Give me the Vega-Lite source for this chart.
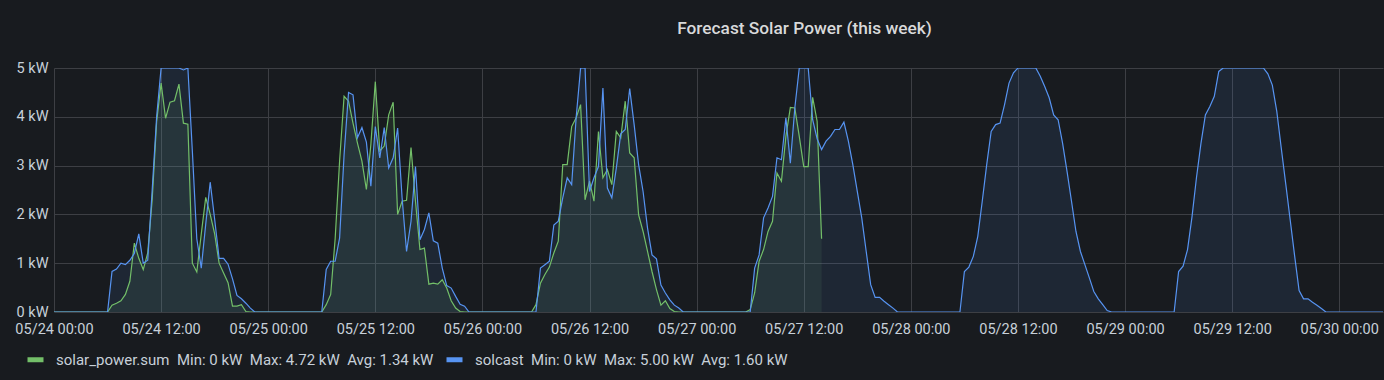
{
 "$schema": "https://vega.github.io/schema/vega-lite/v6.json",
 "width": 1329,
 "height": 244,
 "autosize": {"type": "none"},
 "padding": {"left": 54, "top": 68, "right": 1, "bottom": 68},
 "background": "#181b1f",
 "title": {"text": "Forecast Solar Power (this week)", "anchor": "middle", "frame": "group", "dx": 86, "offset": 9, "baseline": "alphabetic", "font": "Roboto", "fontSize": 17.3, "fontWeight": 500, "color": "#d8d9da"},
 "config": {
  "view": {"stroke": null},
  "axis": {"labelFont": "Roboto", "labelFontSize": 14.5, "labelColor": "#c7d0d9", "gridColor": "#3d3f44", "gridWidth": 1, "domain": false, "ticks": false, "tickSize": 0}
 },
 "datasets": {
  "g": [
   {"t": "2021-05-24T00:00", "v": 0}, {"t": "2021-05-24T06:00", "v": 0}, {"t": "2021-05-24T06:30", "v": 0.14}, {"t": "2021-05-24T07:00", "v": 0.18}, {"t": "2021-05-24T07:30", "v": 0.23}, {"t": "2021-05-24T08:00", "v": 0.36}, {"t": "2021-05-24T08:30", "v": 0.63}, {"t": "2021-05-24T09:00", "v": 1.41}, {"t": "2021-05-24T09:30", "v": 1.1}, {"t": "2021-05-24T10:00", "v": 0.87}, {"t": "2021-05-24T10:30", "v": 1.21}, {"t": "2021-05-24T11:00", "v": 2.3}, {"t": "2021-05-24T11:30", "v": 3.9}, {"t": "2021-05-24T12:00", "v": 4.69}, {"t": "2021-05-24T12:30", "v": 3.97}, {"t": "2021-05-24T13:00", "v": 4.3}, {"t": "2021-05-24T13:30", "v": 4.33}, {"t": "2021-05-24T14:00", "v": 4.67}, {"t": "2021-05-24T14:30", "v": 3.87}, {"t": "2021-05-24T15:00", "v": 3.85}, {"t": "2021-05-24T15:30", "v": 1.0}, {"t": "2021-05-24T16:00", "v": 0.82}, {"t": "2021-05-24T16:30", "v": 1.6}, {"t": "2021-05-24T17:00", "v": 2.35}, {"t": "2021-05-24T17:30", "v": 2.0}, {"t": "2021-05-24T18:00", "v": 1.6}, {"t": "2021-05-24T18:30", "v": 1.0}, {"t": "2021-05-24T19:00", "v": 0.8}, {"t": "2021-05-24T19:30", "v": 0.6}, {"t": "2021-05-24T20:00", "v": 0.12}, {"t": "2021-05-24T20:30", "v": 0.12}, {"t": "2021-05-24T21:00", "v": 0.15}, {"t": "2021-05-24T21:30", "v": 0.01}, {"t": "2021-05-24T22:00", "v": 0},
   {"t": "2021-05-25T06:00", "v": 0}, {"t": "2021-05-25T06:30", "v": 0.15}, {"t": "2021-05-25T07:00", "v": 0.36}, {"t": "2021-05-25T07:30", "v": 1.5}, {"t": "2021-05-25T08:00", "v": 3.1}, {"t": "2021-05-25T08:30", "v": 4.42}, {"t": "2021-05-25T09:00", "v": 4.32}, {"t": "2021-05-25T09:30", "v": 3.87}, {"t": "2021-05-25T10:00", "v": 3.46}, {"t": "2021-05-25T10:30", "v": 3.09}, {"t": "2021-05-25T11:00", "v": 2.51}, {"t": "2021-05-25T11:30", "v": 3.43}, {"t": "2021-05-25T12:00", "v": 4.72}, {"t": "2021-05-25T12:30", "v": 3.3}, {"t": "2021-05-25T13:00", "v": 3.4}, {"t": "2021-05-25T13:30", "v": 4.04}, {"t": "2021-05-25T14:00", "v": 4.3}, {"t": "2021-05-25T14:30", "v": 2.0}, {"t": "2021-05-25T15:00", "v": 2.27}, {"t": "2021-05-25T15:30", "v": 2.29}, {"t": "2021-05-25T16:00", "v": 3.37}, {"t": "2021-05-25T16:30", "v": 2.27}, {"t": "2021-05-25T17:00", "v": 1.28}, {"t": "2021-05-25T17:30", "v": 1.31}, {"t": "2021-05-25T18:00", "v": 0.57}, {"t": "2021-05-25T18:30", "v": 0.59}, {"t": "2021-05-25T19:00", "v": 0.57}, {"t": "2021-05-25T19:30", "v": 0.66}, {"t": "2021-05-25T20:00", "v": 0.49}, {"t": "2021-05-25T20:30", "v": 0.23}, {"t": "2021-05-25T21:00", "v": 0.08}, {"t": "2021-05-25T21:30", "v": 0.01}, {"t": "2021-05-25T22:00", "v": 0},
   {"t": "2021-05-26T05:30", "v": 0}, {"t": "2021-05-26T06:00", "v": 0.15}, {"t": "2021-05-26T06:30", "v": 0.59}, {"t": "2021-05-26T07:00", "v": 0.77}, {"t": "2021-05-26T07:30", "v": 0.92}, {"t": "2021-05-26T08:00", "v": 1.21}, {"t": "2021-05-26T08:30", "v": 1.45}, {"t": "2021-05-26T09:00", "v": 3.02}, {"t": "2021-05-26T09:30", "v": 3.02}, {"t": "2021-05-26T10:00", "v": 3.8}, {"t": "2021-05-26T10:30", "v": 3.98}, {"t": "2021-05-26T11:00", "v": 4.25}, {"t": "2021-05-26T11:30", "v": 2.3}, {"t": "2021-05-26T12:00", "v": 2.68}, {"t": "2021-05-26T12:30", "v": 2.27}, {"t": "2021-05-26T13:00", "v": 3.7}, {"t": "2021-05-26T13:30", "v": 2.75}, {"t": "2021-05-26T14:00", "v": 2.92}, {"t": "2021-05-26T14:30", "v": 2.61}, {"t": "2021-05-26T15:00", "v": 3.7}, {"t": "2021-05-26T15:30", "v": 3.57}, {"t": "2021-05-26T16:00", "v": 4.32}, {"t": "2021-05-26T16:30", "v": 3.26}, {"t": "2021-05-26T17:00", "v": 3.16}, {"t": "2021-05-26T17:30", "v": 1.99}, {"t": "2021-05-26T18:00", "v": 1.65}, {"t": "2021-05-26T18:30", "v": 1.24}, {"t": "2021-05-26T19:00", "v": 0.83}, {"t": "2021-05-26T19:30", "v": 0.46}, {"t": "2021-05-26T20:00", "v": 0.14}, {"t": "2021-05-26T20:30", "v": 0.23}, {"t": "2021-05-26T21:00", "v": 0.07}, {"t": "2021-05-26T21:30", "v": 0.01}, {"t": "2021-05-26T22:00", "v": 0},
   {"t": "2021-05-27T05:30", "v": 0}, {"t": "2021-05-27T06:00", "v": 0.05}, {"t": "2021-05-27T06:30", "v": 0.39}, {"t": "2021-05-27T07:00", "v": 1.04}, {"t": "2021-05-27T07:30", "v": 1.28}, {"t": "2021-05-27T08:00", "v": 1.65}, {"t": "2021-05-27T08:30", "v": 1.86}, {"t": "2021-05-27T09:00", "v": 2.85}, {"t": "2021-05-27T09:30", "v": 2.68}, {"t": "2021-05-27T10:00", "v": 3.6}, {"t": "2021-05-27T10:30", "v": 4.19}, {"t": "2021-05-27T11:00", "v": 4.18}, {"t": "2021-05-27T11:30", "v": 3.6}, {"t": "2021-05-27T12:00", "v": 2.98}, {"t": "2021-05-27T12:30", "v": 2.98}, {"t": "2021-05-27T13:00", "v": 4.4}, {"t": "2021-05-27T13:30", "v": 3.91}, {"t": "2021-05-27T14:00", "v": 1.5}
  ],
  "b": [
   {"t": "2021-05-24T00:00", "v": 0}, {"t": "2021-05-24T06:00", "v": 0}, {"t": "2021-05-24T06:30", "v": 0.83}, {"t": "2021-05-24T07:00", "v": 0.88}, {"t": "2021-05-24T07:30", "v": 1.0}, {"t": "2021-05-24T08:00", "v": 0.97}, {"t": "2021-05-24T08:30", "v": 1.06}, {"t": "2021-05-24T09:00", "v": 1.2}, {"t": "2021-05-24T09:30", "v": 1.6}, {"t": "2021-05-24T10:00", "v": 1.0}, {"t": "2021-05-24T10:30", "v": 1.06}, {"t": "2021-05-24T11:00", "v": 2.5}, {"t": "2021-05-24T11:30", "v": 4.0}, {"t": "2021-05-24T12:00", "v": 5}, {"t": "2021-05-24T12:30", "v": 5}, {"t": "2021-05-24T13:00", "v": 5}, {"t": "2021-05-24T13:30", "v": 5}, {"t": "2021-05-24T14:00", "v": 5}, {"t": "2021-05-24T14:30", "v": 4.96}, {"t": "2021-05-24T15:00", "v": 5}, {"t": "2021-05-24T15:30", "v": 3.3}, {"t": "2021-05-24T16:00", "v": 1.5}, {"t": "2021-05-24T16:30", "v": 0.9}, {"t": "2021-05-24T17:00", "v": 1.8}, {"t": "2021-05-24T17:30", "v": 2.66}, {"t": "2021-05-24T18:00", "v": 1.9}, {"t": "2021-05-24T18:30", "v": 1.1}, {"t": "2021-05-24T19:00", "v": 1.1}, {"t": "2021-05-24T19:30", "v": 0.98}, {"t": "2021-05-24T20:00", "v": 0.68}, {"t": "2021-05-24T20:30", "v": 0.34}, {"t": "2021-05-24T21:00", "v": 0.27}, {"t": "2021-05-24T21:30", "v": 0.18}, {"t": "2021-05-24T22:00", "v": 0.08}, {"t": "2021-05-24T22:30", "v": 0},
   {"t": "2021-05-25T06:00", "v": 0}, {"t": "2021-05-25T06:30", "v": 0.87}, {"t": "2021-05-25T07:00", "v": 1.04}, {"t": "2021-05-25T07:30", "v": 1.04}, {"t": "2021-05-25T08:00", "v": 1.52}, {"t": "2021-05-25T08:30", "v": 3.22}, {"t": "2021-05-25T09:00", "v": 4.5}, {"t": "2021-05-25T09:30", "v": 4.45}, {"t": "2021-05-25T10:00", "v": 3.57}, {"t": "2021-05-25T10:30", "v": 3.78}, {"t": "2021-05-25T11:00", "v": 3.48}, {"t": "2021-05-25T11:30", "v": 2.58}, {"t": "2021-05-25T12:00", "v": 3.8}, {"t": "2021-05-25T12:30", "v": 3.16}, {"t": "2021-05-25T13:00", "v": 3.78}, {"t": "2021-05-25T13:30", "v": 2.95}, {"t": "2021-05-25T14:00", "v": 3.16}, {"t": "2021-05-25T14:30", "v": 3.77}, {"t": "2021-05-25T15:00", "v": 2.34}, {"t": "2021-05-25T15:30", "v": 1.24}, {"t": "2021-05-25T16:00", "v": 1.86}, {"t": "2021-05-25T16:30", "v": 2.98}, {"t": "2021-05-25T17:00", "v": 1.48}, {"t": "2021-05-25T17:30", "v": 1.69}, {"t": "2021-05-25T18:00", "v": 2.03}, {"t": "2021-05-25T18:30", "v": 1.46}, {"t": "2021-05-25T19:00", "v": 1.41}, {"t": "2021-05-25T19:30", "v": 0.9}, {"t": "2021-05-25T20:00", "v": 0.54}, {"t": "2021-05-25T20:30", "v": 0.49}, {"t": "2021-05-25T21:00", "v": 0.32}, {"t": "2021-05-25T21:30", "v": 0.16}, {"t": "2021-05-25T22:00", "v": 0.12}, {"t": "2021-05-25T22:30", "v": 0},
   {"t": "2021-05-26T06:00", "v": 0}, {"t": "2021-05-26T06:30", "v": 0.9}, {"t": "2021-05-26T07:00", "v": 0.97}, {"t": "2021-05-26T07:30", "v": 1.04}, {"t": "2021-05-26T08:00", "v": 1.78}, {"t": "2021-05-26T08:30", "v": 1.86}, {"t": "2021-05-26T09:00", "v": 2.34}, {"t": "2021-05-26T09:30", "v": 2.75}, {"t": "2021-05-26T10:00", "v": 2.61}, {"t": "2021-05-26T10:30", "v": 3.98}, {"t": "2021-05-26T11:00", "v": 5}, {"t": "2021-05-26T11:30", "v": 5}, {"t": "2021-05-26T12:00", "v": 2.47}, {"t": "2021-05-26T12:30", "v": 2.75}, {"t": "2021-05-26T13:00", "v": 2.98}, {"t": "2021-05-26T13:30", "v": 4.59}, {"t": "2021-05-26T14:00", "v": 2.54}, {"t": "2021-05-26T14:30", "v": 2.34}, {"t": "2021-05-26T15:00", "v": 2.95}, {"t": "2021-05-26T15:30", "v": 3.65}, {"t": "2021-05-26T16:00", "v": 3.74}, {"t": "2021-05-26T16:30", "v": 4.58}, {"t": "2021-05-26T17:00", "v": 3.84}, {"t": "2021-05-26T17:30", "v": 3.02}, {"t": "2021-05-26T18:00", "v": 2.47}, {"t": "2021-05-26T18:30", "v": 1.72}, {"t": "2021-05-26T19:00", "v": 1.17}, {"t": "2021-05-26T19:30", "v": 1.09}, {"t": "2021-05-26T20:00", "v": 0.55}, {"t": "2021-05-26T20:30", "v": 0.39}, {"t": "2021-05-26T21:00", "v": 0.25}, {"t": "2021-05-26T21:30", "v": 0.14}, {"t": "2021-05-26T22:00", "v": 0.08}, {"t": "2021-05-26T22:30", "v": 0},
   {"t": "2021-05-27T06:00", "v": 0}, {"t": "2021-05-27T06:30", "v": 0.9}, {"t": "2021-05-27T07:00", "v": 1.17}, {"t": "2021-05-27T07:30", "v": 1.93}, {"t": "2021-05-27T08:00", "v": 2.13}, {"t": "2021-05-27T08:30", "v": 2.37}, {"t": "2021-05-27T09:00", "v": 3.16}, {"t": "2021-05-27T09:30", "v": 3.12}, {"t": "2021-05-27T10:00", "v": 3.98}, {"t": "2021-05-27T10:30", "v": 3.05}, {"t": "2021-05-27T11:00", "v": 4.18}, {"t": "2021-05-27T11:30", "v": 5}, {"t": "2021-05-27T12:00", "v": 5}, {"t": "2021-05-27T12:30", "v": 5}, {"t": "2021-05-27T13:00", "v": 3.94}, {"t": "2021-05-27T13:30", "v": 3.55}, {"t": "2021-05-27T14:00", "v": 3.33}, {"t": "2021-05-27T14:30", "v": 3.5}, {"t": "2021-05-27T15:00", "v": 3.6}, {"t": "2021-05-27T15:30", "v": 3.74}, {"t": "2021-05-27T16:00", "v": 3.74}, {"t": "2021-05-27T16:30", "v": 3.89}, {"t": "2021-05-27T17:00", "v": 3.5}, {"t": "2021-05-27T17:30", "v": 3.02}, {"t": "2021-05-27T18:00", "v": 2.47}, {"t": "2021-05-27T18:30", "v": 1.93}, {"t": "2021-05-27T19:00", "v": 1.24}, {"t": "2021-05-27T19:30", "v": 0.56}, {"t": "2021-05-27T20:00", "v": 0.3}, {"t": "2021-05-27T20:30", "v": 0.3}, {"t": "2021-05-27T21:00", "v": 0.22}, {"t": "2021-05-27T21:30", "v": 0.15}, {"t": "2021-05-27T22:00", "v": 0.08}, {"t": "2021-05-27T22:30", "v": 0},
   {"t": "2021-05-28T05:30", "v": 0}, {"t": "2021-05-28T06:00", "v": 0.83}, {"t": "2021-05-28T06:30", "v": 0.92}, {"t": "2021-05-28T07:00", "v": 1.14}, {"t": "2021-05-28T07:30", "v": 1.55}, {"t": "2021-05-28T08:00", "v": 2.27}, {"t": "2021-05-28T08:30", "v": 3.02}, {"t": "2021-05-28T09:00", "v": 3.7}, {"t": "2021-05-28T09:30", "v": 3.84}, {"t": "2021-05-28T10:00", "v": 3.87}, {"t": "2021-05-28T10:30", "v": 4.25}, {"t": "2021-05-28T11:00", "v": 4.69}, {"t": "2021-05-28T11:30", "v": 4.9}, {"t": "2021-05-28T12:00", "v": 5}, {"t": "2021-05-28T12:30", "v": 5}, {"t": "2021-05-28T13:00", "v": 5}, {"t": "2021-05-28T13:30", "v": 5}, {"t": "2021-05-28T14:00", "v": 5}, {"t": "2021-05-28T14:30", "v": 4.83}, {"t": "2021-05-28T15:00", "v": 4.62}, {"t": "2021-05-28T15:30", "v": 4.39}, {"t": "2021-05-28T16:00", "v": 4.04}, {"t": "2021-05-28T16:30", "v": 3.94}, {"t": "2021-05-28T17:00", "v": 3.46}, {"t": "2021-05-28T17:30", "v": 2.88}, {"t": "2021-05-28T18:00", "v": 2.27}, {"t": "2021-05-28T18:30", "v": 1.65}, {"t": "2021-05-28T19:00", "v": 1.24}, {"t": "2021-05-28T19:30", "v": 0.97}, {"t": "2021-05-28T20:00", "v": 0.7}, {"t": "2021-05-28T20:30", "v": 0.42}, {"t": "2021-05-28T21:00", "v": 0.27}, {"t": "2021-05-28T21:30", "v": 0.15}, {"t": "2021-05-28T22:00", "v": 0.03}, {"t": "2021-05-28T22:30", "v": 0},
   {"t": "2021-05-29T05:30", "v": 0}, {"t": "2021-05-29T06:00", "v": 0.83}, {"t": "2021-05-29T06:30", "v": 0.94}, {"t": "2021-05-29T07:00", "v": 1.28}, {"t": "2021-05-29T07:30", "v": 1.95}, {"t": "2021-05-29T08:00", "v": 2.75}, {"t": "2021-05-29T08:30", "v": 3.45}, {"t": "2021-05-29T09:00", "v": 4.04}, {"t": "2021-05-29T09:30", "v": 4.21}, {"t": "2021-05-29T10:00", "v": 4.42}, {"t": "2021-05-29T10:30", "v": 4.93}, {"t": "2021-05-29T11:00", "v": 5}, {"t": "2021-05-29T11:30", "v": 5}, {"t": "2021-05-29T12:00", "v": 5}, {"t": "2021-05-29T12:30", "v": 5}, {"t": "2021-05-29T13:00", "v": 5}, {"t": "2021-05-29T13:30", "v": 5}, {"t": "2021-05-29T14:00", "v": 5}, {"t": "2021-05-29T14:30", "v": 5}, {"t": "2021-05-29T15:00", "v": 5}, {"t": "2021-05-29T15:30", "v": 5}, {"t": "2021-05-29T16:00", "v": 4.88}, {"t": "2021-05-29T16:30", "v": 4.65}, {"t": "2021-05-29T17:00", "v": 4.11}, {"t": "2021-05-29T17:30", "v": 3.36}, {"t": "2021-05-29T18:00", "v": 2.63}, {"t": "2021-05-29T18:30", "v": 1.89}, {"t": "2021-05-29T19:00", "v": 1.15}, {"t": "2021-05-29T19:30", "v": 0.44}, {"t": "2021-05-29T20:00", "v": 0.27}, {"t": "2021-05-29T20:30", "v": 0.27}, {"t": "2021-05-29T21:00", "v": 0.2}, {"t": "2021-05-29T21:30", "v": 0.14}, {"t": "2021-05-29T22:00", "v": 0.07}, {"t": "2021-05-29T22:30", "v": 0},
   {"t": "2021-05-30T06:00", "v": 0}
  ]
 },
 "encoding": {
  "x": {"field": "t", "type": "temporal", "title": null,
   "scale": {"domain": [{"year": 2021, "month": 5, "date": 24, "hours": 0}, {"year": 2021, "month": 5, "date": 30, "hours": 4, "minutes": 54}]},
   "axis": {"format": "%m/%d %H:%M", "labelPadding": 10, "labelFlush": false, "labelOverlap": false,
    "values": [{"year": 2021, "month": 5, "date": 24, "hours": 0}, {"year": 2021, "month": 5, "date": 24, "hours": 12}, {"year": 2021, "month": 5, "date": 25, "hours": 0}, {"year": 2021, "month": 5, "date": 25, "hours": 12}, {"year": 2021, "month": 5, "date": 26, "hours": 0}, {"year": 2021, "month": 5, "date": 26, "hours": 12}, {"year": 2021, "month": 5, "date": 27, "hours": 0}, {"year": 2021, "month": 5, "date": 27, "hours": 12}, {"year": 2021, "month": 5, "date": 28, "hours": 0}, {"year": 2021, "month": 5, "date": 28, "hours": 12}, {"year": 2021, "month": 5, "date": 29, "hours": 0}, {"year": 2021, "month": 5, "date": 29, "hours": 12}, {"year": 2021, "month": 5, "date": 30, "hours": 0}]}},
  "y": {"field": "v", "type": "quantitative", "title": null,
   "scale": {"domain": [0, 5], "nice": false, "zero": true},
   "axis": {"values": [0, 1, 2, 3, 4, 5], "labelExpr": "datum.value + ' kW'", "labelPadding": 6}}
 },
 "layer": [
  {"data": {"name": "g"}, "mark": {"type": "area", "color": "#73bf69", "fillOpacity": 0.1, "clip": true}},
  {"data": {"name": "b"}, "mark": {"type": "area", "color": "#5794f2", "fillOpacity": 0.1, "clip": true}},
  {"data": {"name": "g"}, "mark": {"type": "line", "strokeWidth": 1.2, "clip": true},
   "encoding": {"stroke": {"datum": "solar_power.sum", "type": "nominal",
    "scale": {"domain": ["solar_power.sum", "solcast"], "range": ["#73bf69", "#5794f2"]},
    "legend": {"orient": "none", "legendX": -29, "legendY": 281, "direction": "horizontal", "title": null, "symbolType": "stroke", "symbolSize": 256, "symbolStrokeWidth": 5, "labelFont": "Roboto", "labelFontSize": 15, "labelColor": "#c7d0d9", "labelOffset": 10, "columnPadding": 2, "labelLimit": 1000, "padding": 0,
     "labelExpr": "datum.label == 'solcast' ? 'solcast\u00a0\u00a0Min: 0 kW\u00a0\u00a0Max: 5.00 kW\u00a0\u00a0Avg: 1.60 kW' : 'solar_power.sum\u00a0\u00a0Min: 0 kW\u00a0\u00a0Max: 4.72 kW\u00a0\u00a0Avg: 1.34 kW'"}}}},
  {"data": {"name": "b"}, "mark": {"type": "line", "strokeWidth": 1.2, "clip": true},
   "encoding": {"stroke": {"datum": "solcast", "type": "nominal"}}}
 ]
}
